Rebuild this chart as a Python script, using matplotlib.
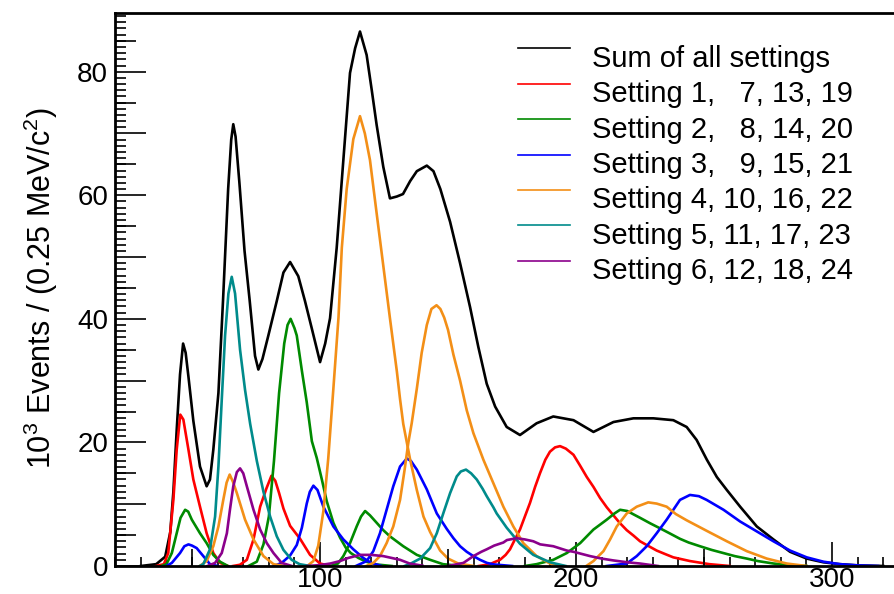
import matplotlib
matplotlib.use("Agg")
import matplotlib.pyplot as plt
from matplotlib.ticker import MultipleLocator, FuncFormatter, NullFormatter
from matplotlib.lines import Line2D

plt.rcParams['font.family'] = ['Liberation Sans', 'DejaVu Sans']
plt.rcParams['mathtext.fontset'] = 'custom'
plt.rcParams['mathtext.rm'] = 'Liberation Sans'
plt.rcParams['mathtext.it'] = 'Liberation Sans:italic'

# ---------------- data (x in MeV/c^2, y in 10^3 events / 0.25 MeV/c^2) -------------
sum_x = [30, 36, 39.5, 41.5, 42.7, 44, 45.3, 46.5, 47.5, 48.6, 50.5, 53.1, 55.7, 57, 58.3, 60.3,
         62.1, 64.1, 65.3, 66.1, 67, 68.5, 70.5, 72.5, 74.6, 75.9, 77.5, 79.8, 83.1, 85.7, 88.3,
         91.5, 94.1, 96.8, 100, 102, 103.9, 106.5, 109.1, 111.7, 113.7, 115.6, 118.2, 120.2, 122.1,
         124.7, 127.3, 130, 132.4, 135.2, 137.8, 141.7, 144.3, 147, 150.8, 154.7, 158.6, 161.8,
         165.1, 168.4, 172.9, 178.1, 184.6, 191.1, 199, 206.8, 214.6, 222.4, 230.2, 238, 243.2,
         247.1, 251.1, 255, 258.9, 264.1, 270.6, 277.1, 283.6, 290.1, 296.6, 303, 310, 320]
sum_y = [0, 0.3, 1.5, 5.5, 12, 22, 31, 36, 34.5, 30.6, 23.5, 16.1, 12.9, 14, 18.8, 28,
         43, 61, 69, 71.5, 69.5, 62, 51, 43, 34, 31.8, 33.5, 37.3, 42.9, 47.5, 49.2,
         46.9, 42.9, 38.4, 33, 36, 40.1, 51.5, 65.7, 79.8, 83.8, 86.5, 82.7, 77, 71.4,
         64.6, 59.5, 59.8, 60.2, 62.3, 63.9, 64.8, 63.9, 61, 55.7, 49, 41.9, 35.5,
         29.5, 25.8, 22.5, 21.2, 23.1, 24.2, 23.6, 21.7, 23.3, 23.9, 23.9, 23.6, 22.5,
         20.4, 17.2, 14.4, 12.3, 9.6, 6.4, 4.3, 2.3, 1.2, 0.6, 0.3, 0.1, 0]

# Setting 1, 7, 13 (red)
s1_x = [36, 39, 40.7, 42.7, 44, 45.4, 46.6, 48.6, 50.5, 53.1, 55.7, 58.3, 61, 64]
s1_y = [0, 0.3, 2.1, 10.7, 18.8, 24.5, 23.7, 18.8, 14, 9.6, 5.3, 2.1, 0.5, 0]
s7_x = [66, 68.7, 71.4, 74, 76.6, 79, 81, 82.5, 84, 85.7, 88.3, 92.2, 96.1, 100, 104]
s7_y = [0, 0.2, 1.0, 4.3, 9.6, 12.5, 14.6, 13.8, 11.8, 9.3, 6.5, 4.4, 1.8, 0.4, 0]
s13_x = [162, 166.4, 168, 170.3, 172.5, 174.2, 176, 178.1, 180, 182, 184, 185.9, 188, 189.8,
         191.8, 193.75, 196, 199, 201.5, 204.2, 206.8, 209.4, 212, 214.6, 217, 219.8, 222.5,
         225, 228, 231.5, 235, 238, 244.5, 252, 260]
s13_y = [0, 0.3, 0.6, 1.0, 1.8, 2.7, 4.2, 5.9, 8.0, 10.2, 12.8, 15.0, 17.2, 18.5,
         19.2, 19.4, 19.0, 18.0, 16.3, 14.4, 12.8, 11.0, 9.5, 8.2, 7.0, 5.8, 4.9,
         4.0, 3.3, 2.5, 1.9, 1.4, 0.8, 0.3, 0]

# Setting 2, 8, 14, 20 (green)
s2_x = [38, 40, 42.1, 44, 45.5, 47.3, 48.5, 49.9, 53.1, 55.7, 58.3, 60.9, 64]
s2_y = [0, 0.3, 2.1, 5.3, 7.8, 9.1, 8.8, 7.5, 5.3, 3.7, 1.8, 0.7, 0]
s8_x = [72, 75.3, 77.9, 80, 82, 84, 86, 87.3, 88.5, 90, 90.9, 92.9, 94.8, 96.8, 98.7, 100.7,
        102.6, 105.2, 107.8, 110, 112, 115, 118, 122, 128]
s8_y = [0, 0.7, 3.5, 8, 17, 28, 36, 39, 40, 38.5, 37.3, 31.6, 26.5, 20.2, 17.5, 14,
        10.5, 7.0, 4.6, 3.0, 2.1, 1.3, 0.7, 0.25, 0]
s14_x = [104, 107, 109.1, 111.7, 114.3, 116, 117.6, 119.5, 122.1, 124.7, 127.3, 132.5, 137.8,
         143, 148, 155]
s14_y = [0, 0.4, 1.6, 3.7, 6.4, 8.0, 8.9, 8.2, 7.0, 5.8, 4.8, 3.2, 1.8, 1.0, 0.3, 0]
s20_x = [180, 184.6, 191.1, 196.4, 201.6, 206.8, 212, 215, 217.2, 220, 222.7, 225, 229, 232.8,
         236.5, 240.6, 244, 248.4, 253, 257.5, 262, 266.7, 271, 277.1, 283, 290]
s20_y = [0, 0.3, 1.0, 2.1, 3.7, 5.9, 7.5, 8.5, 9.1, 8.9, 8.3, 7.8, 6.9, 6.1,
         5.3, 4.4, 3.8, 3.2, 2.6, 2.1, 1.6, 1.2, 0.8, 0.4, 0.15, 0]

# Setting 3, 9, 15, 21 (blue)
s3_x = [40, 42.1, 45.3, 47, 48.6, 50, 51.8, 54.4, 57, 60]
s3_y = [0, 0.5, 2.1, 3.2, 3.5, 3.3, 2.9, 1.6, 0.3, 0]
s9_x = [82, 85, 88.3, 90.9, 92.9, 94.8, 96, 97.4, 99, 101.3, 105.2, 109.1, 113, 116.9, 120, 124]
s9_y = [0, 0.5, 1.7, 3.4, 6.2, 10.1, 12, 13, 12.3, 9.6, 6.4, 4.3, 2.7, 1.3, 0.5, 0]
s15_x = [114, 118.2, 120.8, 123.4, 126, 128.6, 131.25, 133.9, 135.5, 137.8, 141.7, 145.6, 149.5,
         152.1, 154.7, 157.3, 159.9, 162.5, 165.2, 168, 175]
s15_y = [0, 0.8, 2.4, 5.3, 9.1, 12.9, 16.1, 17.4, 17.0, 15.6, 12.4, 8.5, 6.0,
         4.5, 3.2, 2.3, 1.6, 1.0, 0.5, 0.25, 0]
s21_x = [212, 219.8, 223.7, 227.6, 231.5, 235.4, 238, 240.6, 244.5, 248, 251, 257.6, 264.1,
         270.6, 277.1, 283.6, 290.1, 296.6, 303, 310, 318]
s21_y = [0, 0.4, 1.6, 3.2, 5.3, 7.5, 9.1, 10.7, 11.5, 11.3, 10.7, 9.1, 7.2,
         5.6, 4.0, 2.5, 1.4, 0.7, 0.3, 0.1, 0]

# Setting 4, 10, 16, 22 (orange)
s4_x = [53, 55.7, 58.3, 60.3, 62.2, 63.5, 64.7, 66, 67.5, 70.7, 74, 77.9, 81.8, 86]
s4_y = [0, 0.8, 3.2, 6.4, 10.7, 13.5, 14.8, 13.6, 11.8, 7.5, 4.3, 1.6, 0.3, 0]
s10_x = [95, 97.4, 99.3, 101.3, 103.2, 105.2, 107.2, 108.5, 110.4, 113, 115.6, 117.5, 119.5,
         122.1, 124.7, 127.3, 130, 131.25, 132.5, 135.2, 137.8, 140.4, 143, 146.9, 150, 154, 160]
s10_y = [0, 0.8, 3.3, 8.9, 17.4, 28.7, 40.2, 51.5, 61, 69.1, 72.8, 70, 65.7,
         57.1, 48.6, 40.1, 31.5, 27, 23, 17.2, 12.3, 8.0, 5.5, 2.5, 1.2, 0.4, 0]
s16_x = [118, 120.8, 123.4, 126, 128.6, 131.25, 133, 134.5, 135.8, 137.8, 139.7, 141.7, 143.5,
         145.5, 147, 148.5, 150, 152.1, 154.7, 157.3, 159.9, 163.8, 167.7, 171.6, 175.5, 179.4,
         184.6, 189.8, 195]
s16_y = [0, 0.5, 1.6, 3.7, 6.4, 10.7, 15.5, 20, 23.1, 28.7, 34.5, 39, 41.6,
         42.2, 41.6, 40.2, 38.2, 34.2, 30, 25.2, 21.5, 17.2, 13.4, 9.6, 6.4, 3.7,
         1.6, 0.4, 0]
s22_x = [204, 206.8, 208.5, 210.7, 213.3, 215.9, 219.8, 223.7, 228.2, 231.5, 235.4, 239, 243.2,
         251, 258.9, 266.7, 274.5, 282.3, 290]
s22_y = [0, 0.8, 1.5, 2.4, 4.3, 6.4, 8.5, 9.6, 10.3, 10.1, 9.6, 8.4, 7.4,
         5.7, 4.0, 2.4, 1.2, 0.4, 0]

# Setting 5, 11 (teal)
s5_x = [53, 54.4, 57, 59, 60.3, 61.6, 62.9, 64.2, 65.5, 66.8, 68.75, 70.7, 72.7, 75.3, 77.9,
        80.5, 83.1, 85.7, 88.9, 92, 96]
s5_y = [0, 0.3, 2.7, 8.0, 16.1, 26.9, 37.3, 44.1, 46.8, 44.1, 35, 28.5, 23, 17, 12,
        8, 4.8, 2.6, 1.0, 0.3, 0]
s11_x = [133, 135, 139.1, 143, 145.6, 148.2, 150.8, 153.4, 155, 157, 159, 161.2, 163.5, 165.1,
         167.7, 169, 172.9, 178.1, 183.3, 189.8, 196]
s11_y = [0, 0.3, 1.2, 2.9, 5.3, 8.6, 11.8, 14.5, 15.3, 15.6, 15.0, 14, 12.5, 11.3,
         9.5, 8.5, 6.2, 3.6, 1.8, 0.6, 0]

# Setting 6, 12, 18 (purple)
s6_x = [56, 59, 61.6, 63.6, 64.8, 66.1, 67.5, 68.75, 70, 71.4, 74, 76.6, 79.2, 81.8, 85, 89]
s6_y = [0, 0.5, 2.1, 5.3, 9.1, 12.9, 15.2, 15.8, 15, 12.9, 9.1, 5.9, 3.7, 2.1, 0.5, 0]
s12_x = [95, 100, 104, 107.8, 111, 115.6, 120, 124.7, 128, 131.25, 135, 140]
s12_y = [0, 0.15, 0.4, 0.8, 1.3, 1.8, 1.8, 1.6, 1.3, 1.0, 0.4, 0.05]
s18_x = [150, 156, 159.9, 163, 165.1, 168, 171.6, 173, 176.8, 180, 183.3, 186, 191.1, 196.4,
         199, 205.5, 210, 214.6, 220, 225, 232]
s18_y = [0, 0.5, 1.6, 2.3, 2.7, 3.3, 3.8, 4.2, 4.5, 4.3, 4.0, 3.5, 3.2, 2.5,
         2.3, 1.6, 1.2, 0.9, 0.6, 0.4, 0]

legend_labels = ["Sum of all settings",
                 "Setting 1,   7, 13, 19",
                 "Setting 2,   8, 14, 20",
                 "Setting 3,   9, 15, 21",
                 "Setting 4, 10, 16, 22",
                 "Setting 5, 11, 17, 23",
                 "Setting 6, 12, 18, 24"]
colors = ["black", "#ff0000", "#008a00", "#0000ff", "#f38f17", "#008b8b", "#8b008b"]

groups = [
    [(sum_x, sum_y)],
    [(s1_x, s1_y), (s7_x, s7_y), (s13_x, s13_y)],
    [(s2_x, s2_y), (s8_x, s8_y), (s14_x, s14_y), (s20_x, s20_y)],
    [(s3_x, s3_y), (s9_x, s9_y), (s15_x, s15_y), (s21_x, s21_y)],
    [(s4_x, s4_y), (s10_x, s10_y), (s16_x, s16_y), (s22_x, s22_y)],
    [(s5_x, s5_y), (s11_x, s11_y)],
    [(s6_x, s6_y), (s12_x, s12_y), (s18_x, s18_y)],
]

# ---------------- figure ----------------
W, H = 894, 594
fig = plt.figure(figsize=(W / 100, H / 100), dpi=100)
pos = [115 / W, 1 - 566 / H, (W - 115) / W, (566 - 13) / H]
ax = fig.add_axes(pos)
XMIN, XMAX = 19.9, 324.2
YMIN, YMAX = 0.0, 89.5

for col, curves in zip(colors, groups):
    for cx, cy in curves:
        ax.plot(cx, cy, color=col, lw=1.9, solid_joinstyle='round')

ax.set_xlim(XMIN, XMAX)
ax.set_ylim(YMIN, YMAX)

for sp in ['left', 'bottom', 'top']:
    ax.spines[sp].set_linewidth(2.0)
ax.spines['right'].set_visible(False)

ax.xaxis.set_major_locator(MultipleLocator(100))
ax.xaxis.set_minor_locator(MultipleLocator(10))
ax.yaxis.set_major_locator(MultipleLocator(10))
ax.yaxis.set_minor_locator(MultipleLocator(1))
ax.yaxis.set_major_formatter(FuncFormatter(lambda v, p: f"{int(round(v))}" if int(round(v)) % 20 == 0 else ""))
ax.tick_params(axis='x', which='major', direction='in', length=17, width=1.2, labelsize=20, pad=1,
               top=False)
ax.tick_params(axis='x', which='minor', direction='in', length=6.5, width=1.2, top=False)
ax.tick_params(axis='y', which='major', direction='in', length=22, width=1.2, labelsize=20, pad=5,
               right=False)
ax.tick_params(axis='y', which='minor', direction='in', length=8, width=1.2, right=False)

# medium-length ticks (every 50 on x, every 5 on y)
ax2 = fig.add_axes(pos, frameon=False)
ax2.set_xlim(XMIN, XMAX)
ax2.set_ylim(YMIN, YMAX)
ax2.set_xticks([50, 150, 250])
ax2.set_yticks([5, 15, 25, 35, 45, 55, 65, 75, 85])
ax2.xaxis.set_major_formatter(NullFormatter())
ax2.yaxis.set_major_formatter(NullFormatter())
ax2.tick_params(axis='x', direction='in', length=12, width=1.2)
ax2.tick_params(axis='y', direction='in', length=15, width=1.2)
ax2.patch.set_visible(False)

fig.text(41 / W, 1 - 288 / H, r"10$^{3}$ Events / (0.25 MeV/$\mathrm{c}^{2}$)", rotation=90,
         ha='center', va='center', fontsize=22)

# legend
for i, (lab, col) in enumerate(zip(legend_labels, colors)):
    ly = 48.3 + 35.4 * i
    fig.add_artist(Line2D([518 / W, 570 / W], [1 - ly / H, 1 - ly / H], color=col, lw=1.2,
                          transform=fig.transFigure))
    fig.text(592 / W, 1 - (66.7 + 35.4 * i) / H, lab, fontsize=21, ha='left', va='baseline')

fig.savefig("out.png", dpi=100)
